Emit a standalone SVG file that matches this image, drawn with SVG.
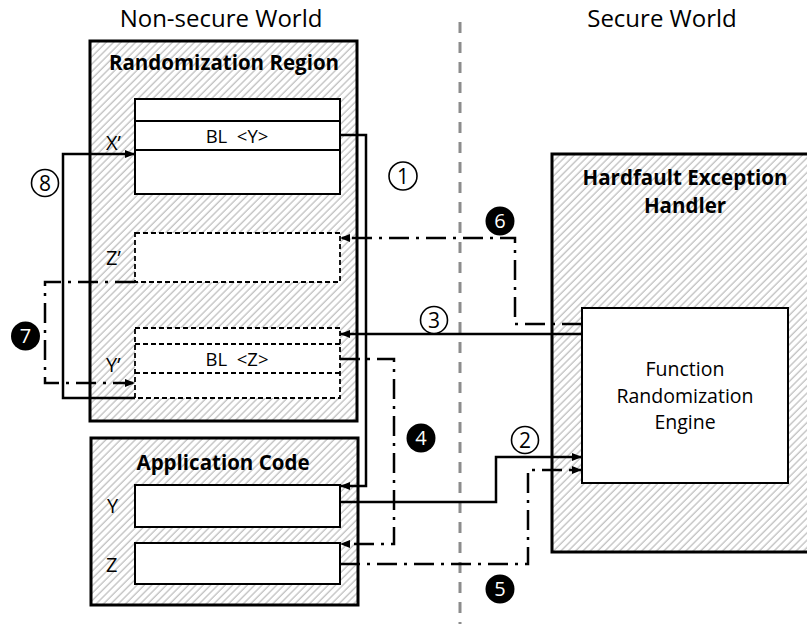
<svg xmlns="http://www.w3.org/2000/svg" width="807" height="624" viewBox="0 0 807 624">
  <defs>
    <!-- diagonal hatch fill for the region boxes -->
    <pattern id="hatch" width="5.2" height="10" patternUnits="userSpaceOnUse" patternTransform="rotate(45)">
      <rect width="5.2" height="10" fill="#ffffff"/>
      <line x1="1" y1="0" x2="1" y2="10" stroke="#b4b4b4" stroke-width="1.1"/>
    </pattern>
    <marker id="arrow" markerUnits="userSpaceOnUse" markerWidth="10" markerHeight="8" viewBox="0 0 10 8" refX="10" refY="4" orient="auto">
      <path d="M0,0 L10,4 L0,8 z" fill="#000"/>
    </marker>
  </defs>
  <style>
    text { font-family: "Open Sans", "Noto Sans", "Liberation Sans", sans-serif; fill: #000; }
    .title { font-size: 24px; text-anchor: middle; }
    .head { font-size: 20.5px; font-weight: bold; text-anchor: middle; }
    .body { font-size: 19.5px; text-anchor: middle; }
    .code { font-size: 18.5px; text-anchor: middle; white-space: pre; }
    .lbl { font-size: 20px; }
    .region { fill: url(#hatch); stroke: #000; stroke-width: 3; }
    .cell { fill: #fff; stroke: #000; stroke-width: 2; }
    .dcell { fill: #fff; stroke: #000; stroke-width: 1.8; stroke-dasharray: 5 3; }
    .dline { stroke: #000; stroke-width: 1.8; stroke-dasharray: 5 3; fill: none; }
    .solid { fill: none; stroke: #000; stroke-width: 2.5; marker-end: url(#arrow); }
    .dashdot { fill: none; stroke: #000; stroke-width: 2.5; stroke-dasharray: 20 7 3 7; marker-end: url(#arrow); }
    .ring { fill: #fff; stroke: #000; stroke-width: 1.6; }
    .ringnum { font-size: 21px; text-anchor: middle; }
    .dot { fill: #000; }
    .dotnum { font-size: 20px; text-anchor: middle; fill: #fff; }
  </style>

  <rect width="807" height="624" fill="#fff"/>

  <!-- world divider -->
  <line x1="460" y1="22" x2="460" y2="624" stroke="#8c8c8c" stroke-width="3" stroke-dasharray="11 9"/>
  <text class="title" x="221" y="27">Non-secure World</text>
  <text class="title" x="662" y="27">Secure World</text>

  <!-- Randomization Region -->
  <g id="randomization-region">
    <rect class="region" x="90" y="41" width="267" height="380"/>
    <text class="head" x="224" y="70">Randomization Region</text>
    <g id="func-x">
      <rect class="cell" x="135" y="99" width="205" height="95"/>
      <line x1="135" y1="121" x2="340" y2="121" stroke="#000" stroke-width="2"/>
      <line x1="135" y1="150" x2="340" y2="150" stroke="#000" stroke-width="2"/>
      <text class="code" x="237" y="143">BL  &lt;Y&gt;</text>
      <text class="lbl" x="106" y="150">X’</text>
    </g>
    <g id="func-z-prime">
      <rect class="dcell" x="135" y="233" width="205" height="49"/>
      <text class="lbl" x="106" y="265">Z’</text>
    </g>
    <g id="func-y-prime">
      <rect class="dcell" x="135" y="328" width="205" height="70"/>
      <line class="dline" x1="135" y1="344" x2="340" y2="344"/>
      <line class="dline" x1="135" y1="373" x2="340" y2="373"/>
      <text class="code" x="237" y="366">BL  &lt;Z&gt;</text>
      <text class="lbl" x="106" y="372">Y’</text>
    </g>
  </g>

  <!-- Application Code -->
  <g id="application-code">
    <rect class="region" x="91" y="438" width="267" height="167"/>
    <text class="head" x="223" y="470">Application Code</text>
    <g id="func-y">
      <rect class="cell" x="135" y="485" width="205" height="42"/>
      <text class="lbl" x="107" y="513">Y</text>
    </g>
    <g id="func-z">
      <rect class="cell" x="135" y="543" width="205" height="41"/>
      <text class="lbl" x="106" y="572">Z</text>
    </g>
  </g>

  <!-- Hardfault Exception Handler -->
  <g id="hardfault-handler">
    <rect class="region" x="552" y="154" width="262" height="398"/>
    <text class="head" x="685" y="185">Hardfault Exception</text>
    <text class="head" x="685" y="213">Handler</text>
    <g id="randomization-engine">
      <rect class="cell" x="582" y="308" width="206" height="175"/>
      <text class="body" x="685" y="376">Function</text>
      <text class="body" x="685" y="403">Randomization</text>
      <text class="body" x="685" y="429">Engine</text>
    </g>
  </g>

  <!-- connectors -->
  <g id="connectors">
    <path class="solid" d="M340,135 H366 V486 H340"/>
    <path class="solid" d="M340,502 H496 V457 H582"/>
    <path class="solid" d="M582,334 H340"/>
    <path class="dashdot" d="M340,359 H394 V544 H340"/>
    <path class="dashdot" d="M340,564 H528 V470 H582"/>
    <path class="dashdot" d="M582,324 H515 V238 H340"/>
    <path class="dashdot" d="M135,282 H45 V383 H135"/>
    <path class="solid" d="M135,398 H63 V154 H135"/>
  </g>

  <!-- step numbers -->
  <g id="steps">
    <g id="step-1"><circle class="ring" cx="403" cy="176" r="14"/><text class="ringnum" x="403" y="183.5">1</text></g>
    <g id="step-2"><circle class="ring" cx="525" cy="440" r="13.5"/><text class="ringnum" x="525" y="447.5">2</text></g>
    <g id="step-3"><circle class="ring" cx="434" cy="320" r="13.5"/><text class="ringnum" x="434" y="327.5">3</text></g>
    <g id="step-4"><circle class="dot" cx="421" cy="438" r="14.5"/><text class="dotnum" x="421" y="445">4</text></g>
    <g id="step-5"><circle class="dot" cx="500" cy="589" r="14.5"/><text class="dotnum" x="500" y="596">5</text></g>
    <g id="step-6"><circle class="dot" cx="500" cy="221" r="14.5"/><text class="dotnum" x="500" y="228">6</text></g>
    <g id="step-7"><circle class="dot" cx="25.5" cy="336" r="14.5"/><text class="dotnum" x="25.5" y="343">7</text></g>
    <g id="step-8"><circle class="ring" cx="45" cy="183" r="13.5"/><text class="ringnum" x="45" y="190.5">8</text></g>
  </g>
</svg>
